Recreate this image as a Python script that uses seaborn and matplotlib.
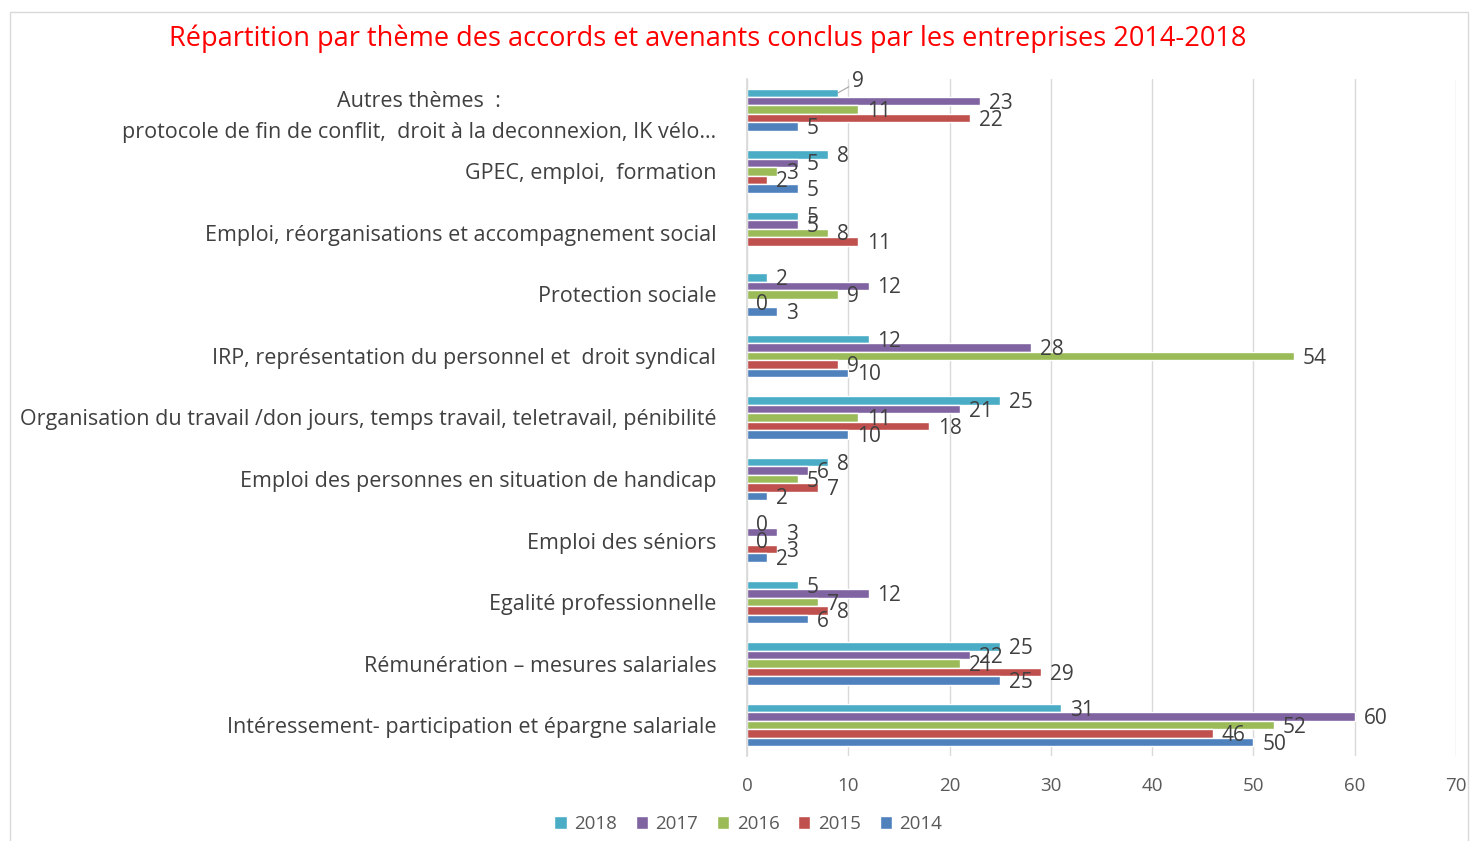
import numpy as np
import pandas as pd
import seaborn as sns
import matplotlib
matplotlib.use('Agg')
import matplotlib.pyplot as plt
from matplotlib.patches import Rectangle

# categories, top to bottom as shown
categories = [
  "Autres thèmes  :\nprotocole de fin de conflit,  droit à la deconnexion, IK vélo…",
  "GPEC, emploi,  formation",
  "Emploi, réorganisations et accompagnement social",
  "Protection sociale",
  "IRP, représentation du personnel et  droit syndical",
  "Organisation du travail /don jours, temps travail, teletravail, pénibilité",
  "Emploi des personnes en situation de handicap",
  "Emploi des séniors",
  "Egalité professionnelle",
  "Rémunération – mesures salariales",
  "Intéressement- participation et épargne salariale",
]
years = ["2018", "2017", "2016", "2015", "2014"]
v2018 = [9, 8, 5, 2, 12, 25, 8, 0, 5, 25, 31]
v2017 = [23, 5, 5, 12, 28, 21, 6, 3, 12, 22, 60]
v2016 = [11, 3, 8, 9, 54, 11, 5, 0, 7, 21, 52]
v2015 = [22, 2, 11, 0, 9, 18, 7, 3, 8, 29, 46]
v2014 = [5, 5, np.nan, 3, 10, 10, 2, 2, 6, 25, 50]
colors = ["#4BACC6", "#8064A2", "#9BBB59", "#C0504D", "#4F81BD"]

rows = []
for yr, vals in zip(years, [v2018, v2017, v2016, v2015, v2014]):
  for cat, v in zip(categories, vals):
    rows.append({'theme': cat, 'annee': yr, 'n': v})
df = pd.DataFrame(rows)

sns.set_theme(style='white')
plt.rcParams['font.family'] = ['Open Sans', 'DejaVu Sans']

fig = plt.figure(figsize=(14.73, 8.41), dpi=100)
ax = fig.add_axes([0.5071, 0.1011, 0.4814, 0.805])

sns.barplot(data=df, y='theme', x='n', hue='annee', order=categories,
            hue_order=years, palette=colors, orient='h', width=0.69,
            saturation=1, errorbar=None, ax=ax)

# data labels
for yr, cont in zip(years, ax.containers):
  for p in cont.patches:
    w = p.get_width()
    if np.isnan(w):
      continue
    yc = p.get_y() + p.get_height() / 2
    ci = int(round(yc))
    if ci == 0 and yr == "2018":
      ax.annotate(str(int(w)), (w, yc), xytext=(10, 8), textcoords='offset points',
                  ha='left', va='center', fontsize=15, color='#404040',
                  arrowprops=dict(arrowstyle='-', color='#A6A6A6', lw=0.8,
                                  shrinkA=0, shrinkB=0))
    else:
      ax.annotate(str(int(w)), (w, yc), xytext=(6.5, -1.5), textcoords='offset points',
                  ha='left', va='center', fontsize=15, color='#404040')

ax.set_xlim(0, 70)
ax.set_xticks(range(0, 71, 10))
ax.set_xlabel('')
ax.set_ylabel('')
ax.grid(axis='x', color='#D9D9D9', lw=1)
ax.set_axisbelow(True)
for s in ['top', 'right', 'bottom']:
  ax.spines[s].set_visible(False)
ax.spines['left'].set_color('#D9D9D9')
ax.tick_params(axis='x', length=0, labelsize=13.5, labelcolor='#595959', pad=15)
ax.tick_params(axis='y', length=0, labelsize=15.5, labelcolor='#404040', pad=22)
for t in ax.get_yticklabels():
  t.set_multialignment('center')
  t.set_linespacing(1.6)
  if '\n' in t.get_text():
    t.set_y(t.get_position()[1])
    t.set_va('center_baseline')

ax.legend(loc='center', bbox_to_anchor=(0.508, 0.02), bbox_transform=fig.transFigure,
          ncol=5, frameon=False, fontsize=13.5, handlelength=0.65, handleheight=0.65,
          handletextpad=0.4, columnspacing=1.0, labelcolor='#595959')

fig.text(0.4805, 0.954, "Répartition par thème des accords et avenants conclus par les entreprises 2014-2018",
         ha='center', va='center', fontsize=19.5, color='#FF0000')

fig.patches.append(Rectangle((10/1473, -0.01), 1458/1473, 1 - 12/841 + 0.01,
                             transform=fig.transFigure, fill=False,
                             edgecolor='#D9D9D9', lw=1))

fig.savefig('out.png', dpi=100)
